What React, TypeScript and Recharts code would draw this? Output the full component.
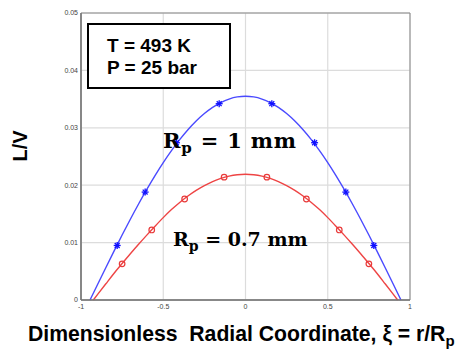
import React from 'react';
import { ComposedChart, Line, Scatter, XAxis, YAxis, CartesianGrid, ReferenceArea } from 'recharts';

// curve for Rp = 1 mm (blue)
const blueX = [-0.945, -0.9, -0.85, -0.8, -0.75, -0.7, -0.65, -0.6, -0.55, -0.5, -0.45, -0.4, -0.35, -0.3, -0.25, -0.2, -0.15, -0.1, -0.05, 0,
  0.05, 0.1, 0.15, 0.2, 0.25, 0.3, 0.35, 0.4, 0.45, 0.5, 0.55, 0.6, 0.65, 0.7, 0.75, 0.8, 0.85, 0.9, 0.945];
const blueY = [0, 0.00265, 0.00558, 0.00848, 0.01132, 0.01407, 0.01672, 0.01926, 0.02167, 0.02393, 0.02602, 0.02794, 0.02966, 0.03118, 0.03248, 0.03356, 0.0344, 0.03501, 0.03538, 0.0355,
  0.03538, 0.03501, 0.0344, 0.03356, 0.03248, 0.03118, 0.02966, 0.02794, 0.02602, 0.02393, 0.02167, 0.01926, 0.01672, 0.01407, 0.01132, 0.00848, 0.00558, 0.00265, 0];

// curve for Rp = 0.7 mm (red)
const redX = [-0.925, -0.9, -0.85, -0.8, -0.75, -0.7, -0.65, -0.6, -0.55, -0.5, -0.45, -0.4, -0.35, -0.3, -0.25, -0.2, -0.15, -0.1, -0.05, 0,
  0.05, 0.1, 0.15, 0.2, 0.25, 0.3, 0.35, 0.4, 0.45, 0.5, 0.55, 0.6, 0.65, 0.7, 0.75, 0.8, 0.85, 0.9, 0.925];
const redY = [0, 0.00093, 0.00278, 0.00462, 0.00635, 0.00805, 0.0097, 0.0113, 0.01285, 0.01435, 0.01575, 0.017, 0.01812, 0.0191, 0.01994, 0.02063, 0.02118, 0.02158, 0.02182, 0.0219,
  0.02182, 0.02158, 0.02118, 0.02063, 0.01994, 0.0191, 0.01812, 0.017, 0.01575, 0.01435, 0.01285, 0.0113, 0.0097, 0.00805, 0.00635, 0.00462, 0.00278, 0.00093, 0];

// marker positions
const blueMarkX = [-0.78, -0.61, -0.42, -0.16, 0.16, 0.42, 0.61, 0.78];
const blueMarkY = [0.0095, 0.0188, 0.0274, 0.0342, 0.0342, 0.0274, 0.0188, 0.0095];
const redMarkX = [-0.75, -0.57, -0.37, -0.13, 0.13, 0.37, 0.57, 0.75];
const redMarkY = [0.0063, 0.0122, 0.0176, 0.0214, 0.0214, 0.0176, 0.0122, 0.0063];

const xTicks = [-1, -0.5, 0, 0.5, 1];
const yTicks = [0, 0.01, 0.02, 0.03, 0.04, 0.05];

const zip = (xs: number[], ys: number[]) => xs.map((x, i) => ({ x, y: ys[i] }));

const blueCurve = zip(blueX, blueY);
const redCurve = zip(redX, redY);
const blueMarks = zip(blueMarkX, blueMarkY);
const redMarks = zip(redMarkX, redMarkY);

const Star = (props: any) => {
  const { cx, cy } = props;
  const r = 3.5;
  const d = r * 0.7;
  return (
    <g stroke="#1010ff" strokeWidth={1.3}>
      <line x1={cx - r} y1={cy} x2={cx + r} y2={cy} />
      <line x1={cx} y1={cy - r} x2={cx} y2={cy + r} />
      <line x1={cx - d} y1={cy - d} x2={cx + d} y2={cy + d} />
      <line x1={cx - d} y1={cy + d} x2={cx + d} y2={cy - d} />
    </g>
  );
};

const Ring = (props: any) => {
  const { cx, cy } = props;
  return <circle cx={cx} cy={cy} r={2.8} fill="none" stroke="#e83a3a" strokeWidth={1.2} />;
};

const tickStyle = { fontSize: 7, fill: '#444', fontFamily: 'Liberation Sans, Arial, sans-serif' };
const arial = 'Liberation Sans, Arial, sans-serif';
const serif = 'DejaVu Serif, serif';

export default function App() {
  return (
    <div style={{ position: 'absolute', left: 0, top: 0, width: 461, height: 361, background: '#fff' }}>
      <ComposedChart width={461} height={361} margin={{ top: 13, right: 51, bottom: 41, left: 41 }}>
        <CartesianGrid stroke="#dcdcdc" strokeWidth={1.2} horizontalValues={yTicks} verticalValues={xTicks} />
        <XAxis
          type="number"
          dataKey="x"
          domain={[-1, 1]}
          ticks={xTicks}
          allowDuplicatedCategory={false}
          tick={tickStyle}
          tickLine={false}
          tickSize={0}
          tickMargin={4}
          height={20}
          axisLine={{ stroke: '#777', strokeWidth: 1.5 }}
        />
        <YAxis
          type="number"
          domain={[0, 0.05]}
          ticks={yTicks}
          tick={tickStyle}
          tickLine={false}
          tickSize={0}
          tickMargin={3}
          width={40}
          tickFormatter={(v: number) => (v === 0 ? '0' : v.toFixed(2))}
          axisLine={{ stroke: '#777', strokeWidth: 1.5 }}
        />
        <ReferenceArea x1={-1} x2={1} y1={0} y2={0.05} fill="none" stroke="#888" strokeWidth={1} />
        <Line data={blueCurve} dataKey="y" type="monotone" stroke="#4a4aff" strokeWidth={1.4} dot={false} isAnimationActive={false} />
        <Line data={redCurve} dataKey="y" type="monotone" stroke="#ee4444" strokeWidth={1.4} dot={false} isAnimationActive={false} />
        <Scatter data={blueMarks} dataKey="y" shape={<Star />} isAnimationActive={false} />
        <Scatter data={redMarks} dataKey="y" shape={<Ring />} isAnimationActive={false} />
      </ComposedChart>
      <svg width={461} height={361} style={{ position: 'absolute', left: 0, top: 0, pointerEvents: 'none' }}>
        <rect x={88} y={24} width={142} height={64} fill="#fff" stroke="#000" strokeWidth={2} />
        <text x={107} y={52} fontFamily={arial} fontWeight="bold" fontSize={19}>T = 493 K</text>
        <text x={107} y={74} fontFamily={arial} fontWeight="bold" fontSize={19}>P = 25 bar</text>
        <text x={163} y={148} fontFamily={serif} fontWeight="bold" fontSize={21} letterSpacing={0.8}>
          R<tspan fontSize={15} dy={5}>p</tspan><tspan dy={-5}> = 1 mm</tspan>
        </text>
        <text x={173} y={246} fontFamily={serif} fontWeight="bold" fontSize={19}>
          R<tspan fontSize={14} dy={5}>p</tspan><tspan dy={-5}> = 0.7 mm</tspan>
        </text>
        <text x={22} y={146} fontFamily={arial} fontWeight="bold" fontSize={20} textAnchor="middle" transform="rotate(-90 22 146)" dominantBaseline="middle">L/V</text>
        <text x={28} y={341} fontFamily={arial} fontWeight="bold" fontSize={21.2} xmlSpace="preserve">
          Dimensionless  Radial Coordinate, ξ = r/R<tspan fontSize={15} dy={5}>p</tspan>
        </text>
      </svg>
    </div>
  );
}
